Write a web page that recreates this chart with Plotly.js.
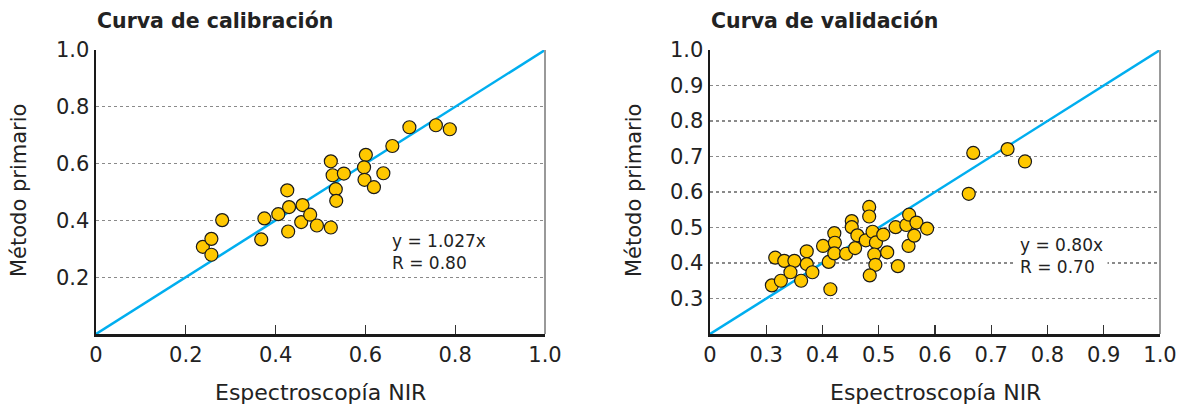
<!DOCTYPE html>
<html>
<head>
<meta charset="utf-8">
<script src="https://cdn.plot.ly/plotly-3.0.1.min.js"></script>
<style>html,body{margin:0;padding:0;background:#fff;}</style>
</head>
<body>
<div id="chart" style="width:1178px;height:406px;"></div>
<script>
// Curva de calibración
const calX = [0.238,0.257,0.257,0.281,0.368,0.375,0.406,0.426,0.430,0.428,0.460,0.457,0.477,0.492,0.523,0.523,0.527,0.552,0.534,0.535,0.601,0.597,0.598,0.619,0.640,0.660,0.698,0.757,0.788];
const calY = [0.307,0.335,0.279,0.401,0.333,0.407,0.422,0.506,0.447,0.361,0.454,0.394,0.420,0.382,0.375,0.608,0.559,0.565,0.510,0.469,0.631,0.587,0.543,0.517,0.566,0.662,0.728,0.735,0.721];
const calLineX = [0, 1];
const calLineY = [0, 1];

// Curva de validación
const valX = [0.310,0.316,0.326,0.332,0.350,0.343,0.362,0.372,0.372,0.382,0.401,0.411,0.414,0.421,0.422,0.421,0.442,0.452,0.452,0.458,0.462,0.477,0.483,0.483,0.489,0.495,0.492,0.494,0.484,0.508,0.515,0.530,0.534,0.549,0.554,0.567,0.553,0.563,0.586,0.660,0.668,0.729,0.760];
const valY = [0.337,0.415,0.350,0.406,0.406,0.374,0.350,0.433,0.397,0.374,0.448,0.403,0.326,0.484,0.457,0.427,0.426,0.518,0.501,0.442,0.478,0.464,0.558,0.531,0.488,0.458,0.424,0.395,0.365,0.480,0.430,0.501,0.391,0.507,0.536,0.514,0.448,0.477,0.497,0.595,0.710,0.721,0.686];
const valLineX = [0.2, 1];
const valLineY = [0.2, 1];

// Ticks
const calXTicks = [0, 0.2, 0.4, 0.6, 0.8, 1.0];
const calXLabels = ["0", "0.2", "0.4", "0.6", "0.8", "1.0"];
const calYTicks = [0.2, 0.4, 0.6, 0.8, 1.0];
const calYLabels = ["0.2", "0.4", "0.6", "0.8", "1.0"];
const valXTicks = [0.2, 0.3, 0.4, 0.5, 0.6, 0.7, 0.8, 0.9, 1.0];
const valXLabels = ["0", "0.3", "0.4", "0.5", "0.6", "0.7", "0.8", "0.9", "1.0"];
const valYTicks = [0.3, 0.4, 0.5, 0.6, 0.7, 0.8, 0.9, 1.0];
const valYLabels = ["0.3", "0.4", "0.5", "0.6", "0.7", "0.8", "0.9", "1.0"];

const FONT = "DejaVu Sans, Verdana, sans-serif";
const TXT = "#222";
const LINEC = "#00AEEF";
const MARK = {size: 13, color: "#FFC800", line: {color: "#1a1a1a", width: 1.2}};

const traces = [
  {x: calLineX, y: calLineY, mode: "lines", line: {color: LINEC, width: 2.5}, xaxis: "x", yaxis: "y", hoverinfo: "skip"},
  {x: calX, y: calY, mode: "markers", marker: MARK, xaxis: "x", yaxis: "y", cliponaxis: false},
  {x: valLineX, y: valLineY, mode: "lines", line: {color: LINEC, width: 2.5}, xaxis: "x2", yaxis: "y2", hoverinfo: "skip"},
  {x: valX, y: valY, mode: "markers", marker: MARK, xaxis: "x2", yaxis: "y2", cliponaxis: false}
];

const yDom = [1 - 334/406, 1 - 50/406];
function xa(dom, range, tv, tt) {
  return {domain: dom, range: range, tickmode: "array", tickvals: tv, ticktext: tt,
    showgrid: false, zeroline: false, showline: true, linecolor: "#1a1a1a", linewidth: 2.5,
    ticks: "inside", ticklen: 9, tickcolor: "#333", tickwidth: 1.3,
    tickfont: {family: FONT, size: 21, color: TXT}, fixedrange: true};
}
function ya(range, tv, tt, anchor) {
  return {domain: yDom, range: range, tickmode: "array", tickvals: tv, ticktext: tt,
    showgrid: true, gridcolor: "#8a8a8a", griddash: "dot", gridwidth: 1.2,
    zeroline: false, showline: true, linecolor: "#1a1a1a", linewidth: 2.5,
    ticks: "", ticklen: 8, anchor: anchor,
    tickfont: {family: FONT, size: 21, color: TXT}, fixedrange: true};
}

const layout = {
  width: 1178, height: 406, autosize: false,
  margin: {l: 0, r: 0, t: 0, b: 0},
  paper_bgcolor: "#fff", plot_bgcolor: "#fff",
  showlegend: false,
  xaxis: Object.assign(xa([96/1178, 545/1178], [0, 1], calXTicks, calXLabels), {anchor: "y"}),
  yaxis: ya([0, 1], calYTicks, calYLabels, "x"),
  xaxis2: Object.assign(xa([710/1178, 1160/1178], [0.2, 1], valXTicks, valXLabels), {anchor: "y2"}),
  yaxis2: ya([0.2, 1], valYTicks, valYLabels, "x2"),
  shapes: [
    {type: "line", xref: "x domain", yref: "y domain", x0: 1, x1: 1, y0: 0, y1: 1, line: {color: "#999", width: 2}},
    {type: "line", xref: "x2 domain", yref: "y2 domain", x0: 1, x1: 1, y0: 0, y1: 1, line: {color: "#999", width: 2}}
  ],
  annotations: [
    {text: "<b>Curva de calibración</b>", xref: "paper", yref: "paper", x: 95/1178, y: 1 - 21/406, xanchor: "left", yanchor: "middle", showarrow: false, font: {family: FONT, size: 20.5, color: TXT}},
    {text: "<b>Curva de validación</b>", xref: "paper", yref: "paper", x: 709/1178, y: 1 - 21/406, xanchor: "left", yanchor: "middle", showarrow: false, font: {family: FONT, size: 20.5, color: TXT}},
    {text: "Método primario", xref: "paper", yref: "paper", x: 19/1178, y: 1 - 191/406, textangle: -90, xanchor: "center", yanchor: "middle", showarrow: false, font: {family: FONT, size: 21, color: TXT}},
    {text: "Método primario", xref: "paper", yref: "paper", x: 634/1178, y: 1 - 191/406, textangle: -90, xanchor: "center", yanchor: "middle", showarrow: false, font: {family: FONT, size: 21, color: TXT}},
    {text: "Espectroscopía NIR", xref: "paper", yref: "paper", x: 320/1178, y: 1 - 392/406, xanchor: "center", yanchor: "middle", showarrow: false, font: {family: FONT, size: 22, color: TXT}},
    {text: "Espectroscopía NIR", xref: "paper", yref: "paper", x: 935/1178, y: 1 - 392/406, xanchor: "center", yanchor: "middle", showarrow: false, font: {family: FONT, size: 22, color: TXT}},
    {text: "y = 1.027x<br>R = 0.80", xref: "x", yref: "y", x: 0.655, y: 0.29, xanchor: "left", yanchor: "middle", align: "left", showarrow: false, font: {family: FONT, size: 17, color: TXT}},
    {text: "y = 0.80x<br>R = 0.70", xref: "x2", yref: "y2", x: 0.742, y: 0.42, xanchor: "left", yanchor: "middle", align: "left", showarrow: false, bgcolor: "#fff", borderpad: 4, font: {family: FONT, size: 17, color: TXT}}
  ]
};

Plotly.newPlot("chart", traces, layout, {staticPlot: true, displayModeBar: false});
</script>
</body>
</html>
